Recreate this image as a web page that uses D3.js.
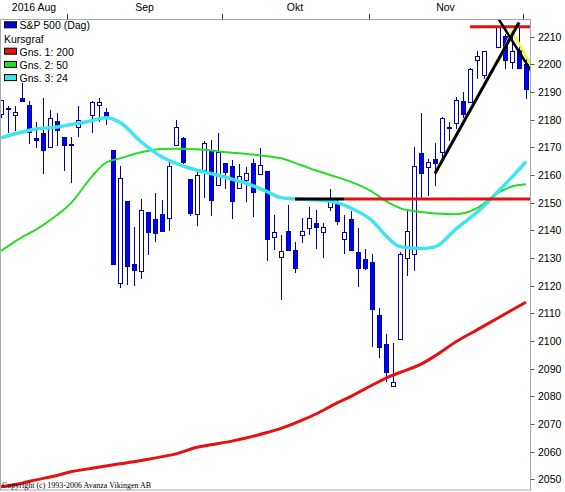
<!DOCTYPE html>
<html>
<head>
<meta charset="utf-8">
<script src="https://cdn.jsdelivr.net/npm/d3@7"></script>
<style>
  body { margin: 0; background: #fff; }
  svg { display: block; font-family: "Liberation Sans", Arial, sans-serif; }
</style>
</head>
<body>
<svg id="chart" width="565" height="492"></svg>
<script>
// S&P 500 daily candles, 18 Aug - 1 Dec 2016
const dates = [
  "2016-08-18","2016-08-19","2016-08-22","2016-08-23","2016-08-24","2016-08-25","2016-08-26","2016-08-29","2016-08-30","2016-08-31",
  "2016-09-01","2016-09-02","2016-09-06","2016-09-07","2016-09-08","2016-09-09","2016-09-12","2016-09-13","2016-09-14","2016-09-15",
  "2016-09-16","2016-09-19","2016-09-20","2016-09-21","2016-09-22","2016-09-23","2016-09-26","2016-09-27","2016-09-28","2016-09-29",
  "2016-09-30","2016-10-03","2016-10-04","2016-10-05","2016-10-06","2016-10-07","2016-10-10","2016-10-11","2016-10-12","2016-10-13",
  "2016-10-14","2016-10-17","2016-10-18","2016-10-19","2016-10-20","2016-10-21","2016-10-24","2016-10-25","2016-10-26","2016-10-27",
  "2016-10-28","2016-10-31","2016-11-01","2016-11-02","2016-11-03","2016-11-04","2016-11-07","2016-11-08","2016-11-09","2016-11-10",
  "2016-11-11","2016-11-14","2016-11-15","2016-11-16","2016-11-17","2016-11-18","2016-11-21","2016-11-22","2016-11-23","2016-11-25",
  "2016-11-28","2016-11-29","2016-11-30","2016-12-01"
]
const opens = [
  2181.9,2184.2,2181.6,2187.8,2185.1,2173.3,2175.1,2170.2,2179.5,2173.6,
  2171.3,2177.5,2181.6,2185.2,2182.8,2169.1,2120.9,2150.5,2127.9,2125.4,
  2146.5,2144.0,2145.9,2144.6,2170.9,2173.3,2158.5,2146.0,2161.9,2168.9,
  2156.5,2164.3,2163.4,2155.2,2158.2,2164.2,2160.4,2161.4,2137.7,2130.3,
  2139.7,2133.0,2138.3,2140.8,2142.5,2139.4,2148.5,2149.7,2137.0,2144.1,
  2132.2,2129.8,2128.7,2109.4,2098.8,2083.8,2100.6,2129.9,2131.6,2167.8,
  2162.7,2165.6,2168.3,2177.5,2178.6,2186.9,2186.4,2201.6,2196.0,2206.3,
  2210.2,2200.8,2205.0,2200.2
]
const highs = [
  2187.0,2185.0,2184.9,2193.4,2186.7,2179.0,2187.9,2183.5,2182.3,2173.8,
  2173.6,2184.9,2186.6,2187.9,2184.1,2169.1,2163.3,2150.5,2141.3,2151.3,
  2146.5,2153.6,2150.8,2165.1,2180.0,2173.8,2158.5,2161.1,2172.4,2172.7,
  2175.3,2164.4,2165.5,2164.0,2162.9,2165.9,2169.6,2161.6,2145.4,2138.2,
  2149.2,2135.6,2144.4,2148.4,2147.2,2142.6,2154.8,2151.4,2145.7,2147.1,
  2140.7,2133.3,2131.5,2111.8,2102.6,2099.1,2132.0,2146.9,2170.1,2182.3,
  2165.9,2171.4,2180.8,2179.2,2188.1,2189.9,2198.7,2204.8,2204.7,2213.4,
  2211.1,2210.5,2214.1,2202.6
]
const lows = [
  2180.5,2175.1,2176.0,2186.8,2171.3,2169.7,2160.4,2170.2,2170.4,2161.4,
  2157.1,2173.6,2175.1,2179.1,2177.9,2127.8,2119.1,2120.3,2119.9,2122.4,
  2131.2,2135.9,2139.2,2139.6,2170.9,2164.0,2145.0,2141.6,2151.8,2145.2,
  2156.5,2154.8,2144.0,2155.2,2150.3,2144.9,2160.4,2128.8,2132.8,2114.7,
  2133.0,2124.4,2135.5,2138.2,2133.4,2130.1,2146.9,2141.9,2131.6,2132.5,
  2119.4,2125.5,2097.9,2094.0,2085.2,2083.8,2100.6,2123.6,2125.4,2151.2,
  2152.5,2156.1,2166.4,2172.2,2176.7,2180.4,2186.4,2194.5,2194.5,2206.3,
  2198.4,2198.2,2198.8,2187.4
]
const closes = [
  2187.0,2183.9,2182.6,2186.9,2175.4,2172.5,2169.0,2180.4,2176.1,2171.0,
  2170.9,2180.0,2186.5,2186.2,2181.3,2127.8,2159.0,2127.0,2125.8,2147.3,
  2139.2,2139.1,2139.8,2163.1,2177.2,2164.7,2146.1,2159.9,2171.4,2151.1,
  2168.3,2161.2,2150.5,2159.7,2160.8,2153.7,2163.7,2136.7,2139.2,2132.6,
  2133.0,2126.5,2139.6,2144.3,2141.3,2141.2,2151.3,2143.2,2139.4,2133.0,
  2126.4,2126.2,2111.7,2097.9,2088.7,2085.2,2131.5,2139.6,2163.3,2160.6,
  2164.5,2164.2,2180.4,2176.9,2187.1,2181.9,2198.2,2202.9,2204.7,2213.4,
  2201.7,2204.7,2198.8,2191.1
]

// moving averages at sample days
const maDates = ["2016-08-18","2016-08-23","2016-08-25","2016-08-30","2016-09-01","2016-09-06","2016-09-08","2016-09-12",
  "2016-09-15","2016-09-20","2016-09-22","2016-09-27","2016-09-29","2016-10-04","2016-10-06","2016-10-11","2016-10-13",
  "2016-10-18","2016-10-20","2016-10-25","2016-10-27","2016-11-01","2016-11-03","2016-11-07","2016-11-10","2016-11-14",
  "2016-11-17","2016-11-22","2016-11-25","2016-11-29","2016-12-01"]
const ma200 = [2047.3,2048.6,2049.8,2051.4,2052.7,2054.0,2054.8,2055.6,2056.8,2058.2,2059.2,2061.6,2062.5,2063.8,2064.9,
  2066.9,2068.4,2071.4,2073.6,2077.6,2080.0,2084.0,2086.6,2088.6,2091.6,2094.6,2099.7,2104.0,2108.3,2111.2,2114.0]
const ma50 = [2132.5,2137.5,2140.2,2145.5,2149.8,2159.5,2164.5,2166.0,2168.2,2169.4,2169.5,2169.3,2168.8,2168.0,2167.6,
  2166.8,2166.0,2163.4,2161.6,2159.2,2157.5,2154.0,2150.5,2148.0,2146.6,2146.1,2145.8,2148.0,2153.5,2155.8,2156.6]
const ma24 = [2173.4,2175.5,2176.6,2177.3,2178.2,2179.6,2180.7,2179.0,2172.0,2166.5,2164.2,2161.7,2160.5,2158.5,2157.0,
  2154.0,2151.8,2151.2,2151.0,2150.0,2148.0,2143.5,2138.0,2134.1,2133.4,2134.0,2140.5,2146.5,2154.0,2159.2,2164.8]

// drawn lines on the chart [date, price]
const supportBlack = [["2016-10-17", 2151.3], ["2016-10-26", 2151.3]]
const supportRed = [["2016-10-26", 2151.3], ["2016-12-02", 2151.3]]
const topRed = [["2016-11-21", 2213.6], ["2016-12-02", 2213.6]]
const trendUp = [["2016-11-14", 2160.5], ["2016-11-30", 2215.1]]
const trendDown = [["2016-11-25", 2216.7], ["2016-12-02", 2196.5]]
const yellowLine = [["2016-11-25", 2200.5], ["2016-11-29", 2212.0], ["2016-12-02", 2198.5]]

const monthStarts = ["2016-09-01", "2016-10-03", "2016-11-01", "2016-12-01"]
const monthLabels = ["2016 Aug", "Sep", "Okt", "Nov"]
const yTicks = d3.range(2050, 2211, 10)

const legendItems = [
  {label: "S&P 500 (Dag)", color: "#0000e0"},
  {label: "Kursgraf", color: null},
  {label: "Gns. 1: 200", color: "#e61010"},
  {label: "Gns. 2: 50", color: "#22dd22"},
  {label: "Gns. 3: 24", color: "#3fe4f2"}
]

const parse = d3.timeParse("%Y-%m-%d")
const day0 = parse(dates[0])
// count weekdays, holidays keep an empty slot like in the original
const idx = s => d3.timeDay.range(day0, parse(s)).filter(d => d.getDay() % 6 !== 0).length

const svg = d3.select("#chart")
const frameL = 0.5, frameR = 530.5, frameT = 19.5, frameB = 490

const x = d3.scaleLinear().domain([0, idx(dates[dates.length - 1])]).range([1, 526])
const y = d3.scaleLinear().domain([2050, 2210]).range([479.3, 36.6])

svg.append("clipPath").attr("id", "clip")
  .append("rect").attr("x", 1).attr("y", 20).attr("width", 529).attr("height", 470)

// frame
svg.append("rect")
  .attr("x", frameL).attr("y", frameT)
  .attr("width", frameR - frameL).attr("height", frameB - frameT)
  .attr("fill", "none").attr("stroke", "#a8a8a8")

// y axis on the right
const yAxis = svg.append("g")
yAxis.selectAll("line").data(yTicks).join("line")
  .attr("x1", frameR).attr("x2", frameR + 4)
  .attr("y1", d => Math.round(y(d)) + 0.5).attr("y2", d => Math.round(y(d)) + 0.5)
  .attr("stroke", "#555")
yAxis.selectAll("text").data(yTicks).join("text")
  .attr("x", 538).attr("y", d => y(d) + 4)
  .attr("font-size", "10.5px")
  .text(d => d)

// month ticks and labels on top
const bounds = monthStarts.map(s => x(idx(s)) - 3.5)
svg.selectAll(".mtick").data(bounds).join("line").attr("class", "mtick")
  .attr("x1", d => Math.round(d) + 0.5).attr("x2", d => Math.round(d) + 0.5)
  .attr("y1", 14).attr("y2", frameT)
  .attr("stroke", "#333")
const edges = [frameL].concat(bounds)
svg.selectAll(".mlabel").data(monthLabels).join("text").attr("class", "mlabel")
  .attr("x", (d, i) => (edges[i] + edges[i + 1]) / 2)
  .attr("y", 11)
  .attr("text-anchor", "middle")
  .attr("font-size", "10.5px")
  .text(d => d)

const plot = svg.append("g").attr("clip-path", "url(#clip)")

// candles
const candles = dates.map((d, i) => ({d, o: opens[i], h: highs[i], l: lows[i], c: closes[i]}))
const cg = plot.selectAll(".candle").data(candles).join("g").attr("class", "candle")
cg.append("line")
  .attr("x1", d => Math.round(x(idx(d.d))) + 0.5)
  .attr("x2", d => Math.round(x(idx(d.d))) + 0.5)
  .attr("y1", d => Math.round(y(d.h)))
  .attr("y2", d => Math.round(y(d.l)))
  .attr("stroke", "#00009c")
cg.append("rect")
  .attr("x", d => Math.round(x(idx(d.d))) - 1.5)
  .attr("y", d => Math.round(y(Math.max(d.o, d.c))) + 0.5)
  .attr("width", 4)
  .attr("height", d => Math.max(Math.round(y(Math.min(d.o, d.c))) - Math.round(y(Math.max(d.o, d.c))), 1))
  .attr("fill", d => d.c >= d.o ? "#fff" : "#0000ff")
  .attr("stroke", "#00009c")

// moving averages
const maLine = vals => d3.line()
  .x((d, i) => x(idx(maDates[i])))
  .y(d => y(d))
  .curve(d3.curveMonotoneX)(vals)
plot.append("path").attr("d", maLine(ma200)).attr("fill", "none").attr("stroke", "#e61010").attr("stroke-width", 3)
plot.append("path").attr("d", maLine(ma50)).attr("fill", "none").attr("stroke", "#22dd22").attr("stroke-width", 2)
plot.append("path").attr("d", maLine(ma24)).attr("fill", "none").attr("stroke", "#3fe4f2").attr("stroke-width", 3.5)

// hand drawn lines
const seg = d3.line().x(d => x(idx(d[0]))).y(d => y(d[1]))
const drawn = [
  {pts: supportRed, color: "#e61010", w: 3},
  {pts: supportBlack, color: "#000", w: 3},
  {pts: topRed, color: "#e61010", w: 3},
  {pts: yellowLine, color: "#f2f23a", w: 2.5},
  {pts: trendUp, color: "#000", w: 3},
  {pts: trendDown, color: "#000", w: 2.5}
]
plot.selectAll(".drawn").data(drawn).join("path").attr("class", "drawn")
  .attr("d", d => seg(d.pts))
  .attr("fill", "none")
  .attr("stroke", d => d.color)
  .attr("stroke-width", d => d.w)

// legend
const lg = svg.append("g").selectAll("g").data(legendItems).join("g")
  .attr("transform", (d, i) => `translate(0,${29.3 + i * 13.2})`)
lg.filter(d => d.color).append("rect")
  .attr("x", 4.5).attr("y", -7.5).attr("width", 12).attr("height", 6)
  .attr("fill", d => d.color).attr("stroke", "#000")
lg.append("text")
  .attr("x", d => d.color ? 19.5 : 4)
  .attr("font-size", "10.5px")
  .text(d => d.label)

svg.append("text")
  .attr("x", 2).attr("y", 488)
  .attr("font-family", "'Liberation Serif', 'Times New Roman', serif")
  .attr("font-size", "8px")
  .text("Copyright (c) 1993-2006 Avanza Vikingen AB")
</script>
</body>
</html>
